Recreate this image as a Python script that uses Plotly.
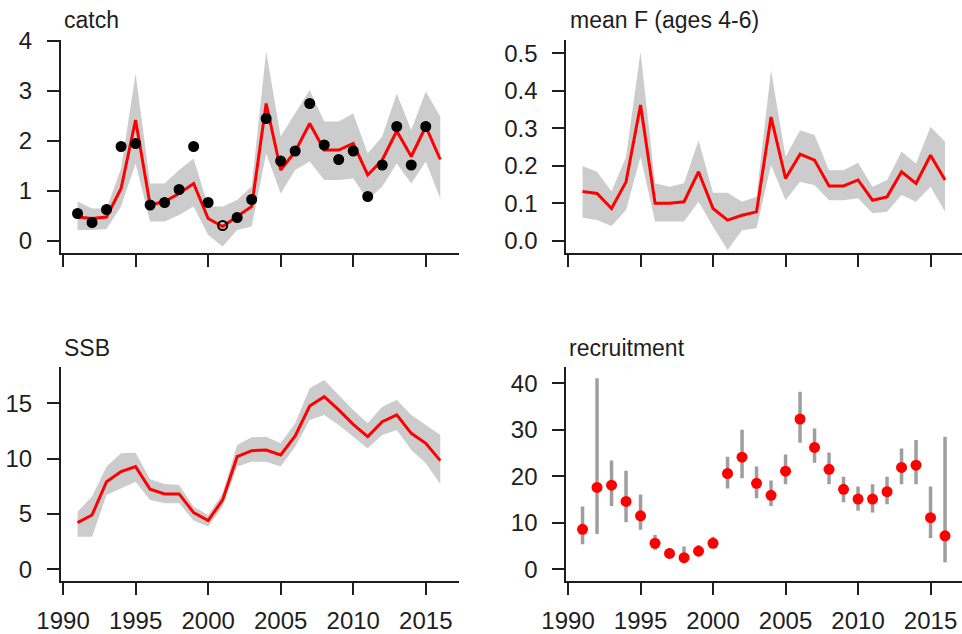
import plotly.graph_objects as go

years = list(range(1991, 2017))

catch_obs = [0.55, 0.37, 0.63, 1.89, 1.95, 0.72, 0.77, 1.03, 1.89, 0.77, 0.31, 0.47, 0.83,
             2.45, 1.60, 1.80, 2.75, 1.92, 1.63, 1.80, 0.89, 1.52, 2.29, 1.52, 2.29]
catch_obs_years = list(range(1991, 2016))
catch_est = [0.48, 0.45, 0.48, 1.05, 2.42, 0.72, 0.79, 0.95, 1.15, 0.45, 0.29, 0.49, 0.69,
             2.75, 1.42, 1.79, 2.35, 1.82, 1.82, 1.95, 1.32, 1.62, 2.20, 1.69, 2.29, 1.63]
catch_lo = [0.22, 0.22, 0.24, 0.69, 1.55, 0.39, 0.39, 0.52, 0.69, 0.12, -0.11, 0.22, 0.29,
            1.75, 0.95, 1.42, 1.59, 1.22, 1.22, 1.25, 0.82, 1.09, 1.55, 1.15, 1.59, 0.85]
catch_hi = [0.79, 0.65, 0.65, 1.45, 3.35, 1.15, 1.15, 1.42, 1.65, 0.69, 0.69, 0.82, 1.09,
            3.79, 2.09, 2.55, 3.02, 2.39, 2.39, 2.55, 1.75, 2.09, 2.95, 2.22, 2.99, 2.49]

f_est = [0.131, 0.126, 0.086, 0.157, 0.362, 0.100, 0.100, 0.104, 0.184, 0.086, 0.055, 0.068, 0.077,
         0.330, 0.166, 0.231, 0.215, 0.146, 0.146, 0.162, 0.108, 0.117, 0.184, 0.153, 0.228, 0.162]
f_lo = [0.061, 0.055, 0.039, 0.082, 0.224, 0.051, 0.051, 0.051, 0.104, 0.037, -0.025, 0.028, 0.033,
        0.202, 0.108, 0.157, 0.148, 0.108, 0.108, 0.113, 0.073, 0.077, 0.122, 0.104, 0.144, 0.077]
f_hi = [0.199, 0.184, 0.131, 0.224, 0.504, 0.153, 0.144, 0.153, 0.268, 0.128, 0.128, 0.104, 0.117,
        0.455, 0.224, 0.295, 0.282, 0.188, 0.188, 0.208, 0.144, 0.162, 0.237, 0.206, 0.304, 0.264]

ssb_est = [4.22, 4.91, 7.92, 8.83, 9.28, 7.23, 6.81, 6.81, 5.12, 4.40, 6.27, 10.18, 10.72,
           10.78, 10.33, 12.05, 14.76, 15.60, 14.40, 13.10, 11.99, 13.34, 13.95, 12.29, 11.39, 9.82]
ssb_lo = [2.95, 2.95, 6.72, 7.32, 7.92, 6.27, 5.96, 5.96, 4.40, 3.86, 5.66, 9.28, 9.73,
          9.73, 9.28, 11.08, 13.49, 13.95, 13.04, 11.99, 10.93, 12.14, 12.59, 10.78, 9.58, 7.71]
ssb_hi = [5.21, 6.57, 9.28, 10.48, 10.54, 8.13, 7.71, 7.62, 5.66, 4.91, 6.87, 11.23, 11.93,
          11.99, 11.39, 13.19, 16.36, 17.10, 15.75, 14.40, 13.19, 14.70, 15.30, 13.95, 13.04, 12.14]

rec_est = [8.6, 17.6, 18.1, 14.6, 11.5, 5.6, 3.4, 2.5, 3.9, 5.6, 20.6, 24.1, 18.5,
           15.9, 21.1, 32.3, 26.2, 21.5, 17.2, 15.1, 15.1, 16.7, 21.9, 22.4, 11.1, 7.2]
rec_lo = [5.4, 7.6, 13.6, 10.1, 8.5, 4.2, 2.5, 1.3, 2.9, 4.5, 17.4, 19.6, 15.3,
          13.6, 18.3, 27.2, 22.9, 18.3, 14.4, 12.6, 12.2, 14.0, 18.3, 18.3, 6.7, 1.5]
rec_hi = [13.5, 41.1, 23.4, 21.2, 16.1, 7.4, 4.5, 4.9, 5.2, 7.0, 24.2, 30.0, 22.1,
          19.1, 24.7, 38.2, 30.3, 25.1, 19.9, 17.8, 18.3, 19.9, 26.0, 27.8, 17.8, 28.5]

titles = ["catch", "mean F (ages 4-6)", "SSB", "recruitment"]
x_ticks = [1990, 1995, 2000, 2005, 2010, 2015]

W, H = 962, 634
RED = "#ff0000"
BAND = "#cccccc"
INK = "#1e1e1e"
FONT = "Liberation Sans, Arial, sans-serif"
FS = 24

fig = go.Figure()

def band(xa, ya, lo, hi, est):
    fig.add_trace(go.Scatter(x=years, y=lo, xaxis=xa, yaxis=ya, mode="lines",
                             line=dict(width=0, color=BAND), hoverinfo="skip", showlegend=False))
    fig.add_trace(go.Scatter(x=years, y=hi, xaxis=xa, yaxis=ya, mode="lines",
                             line=dict(width=0, color=BAND), fill="tonexty", fillcolor=BAND,
                             hoverinfo="skip", showlegend=False))
    fig.add_trace(go.Scatter(x=years, y=est, xaxis=xa, yaxis=ya, mode="lines",
                             line=dict(width=3, color=RED), showlegend=False))

band("x", "y", catch_lo, catch_hi, catch_est)
symbols = ["circle-open" if yr == 2001 else "circle" for yr in catch_obs_years]
fig.add_trace(go.Scatter(x=catch_obs_years, y=catch_obs, xaxis="x", yaxis="y", mode="markers",
                         marker=dict(size=9, color="black", symbol=symbols,
                                     line=dict(width=2, color="black")), showlegend=False))
band("x2", "y2", f_lo, f_hi, f_est)
band("x3", "y3", ssb_lo, ssb_hi, ssb_est)

err_plus = [h - e for h, e in zip(rec_hi, rec_est)]
err_minus = [e - l for e, l in zip(rec_est, rec_lo)]
fig.add_trace(go.Scatter(x=years, y=rec_est, xaxis="x4", yaxis="y4", mode="markers",
                         marker=dict(size=11, color=RED),
                         error_y=dict(type="data", symmetric=False, array=err_plus,
                                      arrayminus=err_minus, width=0, thickness=3.5,
                                      color="#9e9e9e"),
                         showlegend=False))

def px_x(a, b):
    return [a / W, b / W]

def px_y(top, bottom):
    return [1 - bottom / H, 1 - top / H]

dom_x = [px_x(61, 459), px_x(566.3, 962), px_x(61, 459), px_x(566.3, 962)]
dom_y = [px_y(40, 252.5), px_y(40, 252.5), px_y(366.7, 581), px_y(366.7, 581)]
x_ranges = [[1989.86, 2017.29], [1989.88, 2017.17], [1989.86, 2017.29], [1989.88, 2017.17]]
y_ranges = [[-0.23, 4.02], [-0.0315, 0.5355], [-1.057, 18.31], [-2.52, 43.57]]
y_ticks = [[0, 1, 2, 3, 4], [0.0, 0.1, 0.2, 0.3, 0.4, 0.5], [0, 5, 10, 15], [0, 10, 20, 30, 40]]
y_fmt = ["d", ".1f", "d", "d"]

axis_common = dict(showline=True, linecolor=INK, linewidth=2, ticks="outside", ticklen=12,
                   tickwidth=2, tickcolor=INK, showgrid=False, zeroline=False, mirror=False,
                   automargin=False, tickfont=dict(family=FONT, size=FS, color=INK))

for i in range(4):
    sx = "" if i == 0 else str(i + 1)
    fig.layout["xaxis" + sx] = dict(domain=dom_x[i], range=x_ranges[i], tickvals=x_ticks,
                                   showticklabels=(i >= 2), anchor="y" + sx,
                                   ticklabelstandoff=5, **axis_common)
    fig.layout["yaxis" + sx] = dict(domain=dom_y[i], range=y_ranges[i], tickvals=y_ticks[i],
                                   tickformat=y_fmt[i], anchor="x" + sx,
                                   ticklabelstandoff=10, **axis_common)

title_pos = [(62, 20), (568, 20), (62, 348), (567, 348)]
for t, (xp, yp) in zip(titles, title_pos):
    fig.add_annotation(text=t, x=xp / W, y=1 - yp / H, xref="paper", yref="paper",
                       xanchor="left", yanchor="middle", showarrow=False,
                       font=dict(family=FONT, size=FS - 1, color=INK))

fig.update_layout(width=W, height=H, margin=dict(l=0, r=0, t=0, b=0),
                  paper_bgcolor="white", plot_bgcolor="white")

fig.write_html("out.html", config={"displayModeBar": False},
               post_script="document.body.style.margin='0';document.body.style.overflow='hidden';")
